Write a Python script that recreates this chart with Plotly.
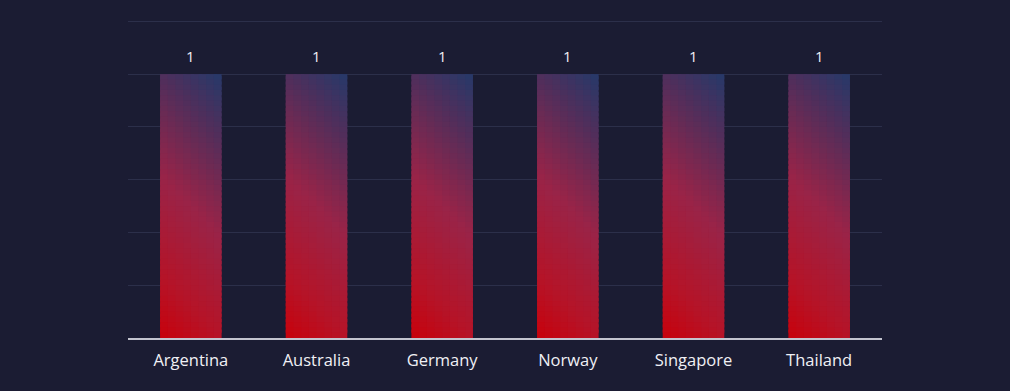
import plotly.graph_objects as go
import numpy as np

categories = ["Argentina", "Australia", "Germany", "Norway", "Singapore", "Thailand"]
values = [1, 1, 1, 1, 1, 1]
value_labels = ["1", "1", "1", "1", "1", "1"]

BG = "#1b1c33"
GRID = "#2c2f4a"
FONT = "Open Sans, Lato, sans-serif"
BAR_W = 0.49
# gradient stops (t from bottom-left to top-right)
stops_t = [0.0, 0.19, 0.5, 0.81, 1.0]
stops_c = [(200, 2, 12), (182, 20, 40), (154, 36, 72), (80, 47, 92), (37, 58, 106)]

def grad(t):
    t = min(max(t, 0.0), 1.0)
    r = np.interp(t, stops_t, [c[0] for c in stops_c])
    g = np.interp(t, stops_t, [c[1] for c in stops_c])
    b = np.interp(t, stops_t, [c[2] for c in stops_c])
    return f"rgb({int(r)},{int(g)},{int(b)})"

N_ROWS = 50
N_COLS = 8
PX_W, PX_H = 62.0, 265.0  # approximate pixel aspect of a bar for the diagonal gradient

fig = go.Figure()
col_w = BAR_W / N_COLS
for j in range(N_COLS):
    xs, bases, ys, cols = [], [], [], []
    for cat, v in zip(categories, values):
        step = v / N_ROWS
        for i in range(N_ROWS):
            base = i * step
            h = min(step * 1.6, v - base)
            u = (j + 0.5) / N_COLS
            vu = (i + 0.5) / N_ROWS
            t = (u * PX_W + vu * PX_H) / (PX_W + PX_H)
            xs.append(cat)
            bases.append(base)
            ys.append(h)
            cols.append(grad(t))
    w = col_w * 1.4 if j < N_COLS - 1 else col_w
    fig.add_trace(go.Bar(
        x=xs, y=ys, base=bases,
        width=w, offset=-BAR_W / 2 + j * col_w,
        marker=dict(color=cols, line=dict(width=0)),
        hoverinfo="skip", showlegend=False,
    ))

# hover layer
fig.add_trace(go.Bar(
    x=categories, y=values, width=BAR_W,
    marker=dict(color="rgba(0,0,0,0)", line=dict(width=0)),
    showlegend=False,
))

for cat, v, lab in zip(categories, values, value_labels):
    fig.add_annotation(
        x=cat, y=v, text=lab, showarrow=False, yshift=18,
        font=dict(color="#f0f0f5", size=15, family=FONT),
    )

fig.update_layout(
    width=1010, height=391,
    paper_bgcolor=BG, plot_bgcolor=BG,
    margin=dict(l=128, r=128, t=20, b=53),
    barmode="overlay",
    font=dict(family=FONT, color="#f0f0f5"),
    xaxis=dict(
        type="category", showgrid=False, showline=True, linecolor="#c3c4cf", linewidth=2,
        ticks="outside", ticklen=6, tickcolor="rgba(0,0,0,0)",
        tickfont=dict(size=16.5, color="#f0f0f5", family=FONT), fixedrange=True,
    ),
    yaxis=dict(
        range=[0, 1.205], tickvals=[0.2, 0.4, 0.6, 0.8, 1.0, 1.2], showgrid=True, gridcolor=GRID, gridwidth=1,
        showticklabels=False, zeroline=False, showline=False, ticks="", fixedrange=True,
    ),
    bargap=0.5,
)

fig.write_html("out.html", config={"displayModeBar": False},
               post_script="document.body.style.margin='0';")
